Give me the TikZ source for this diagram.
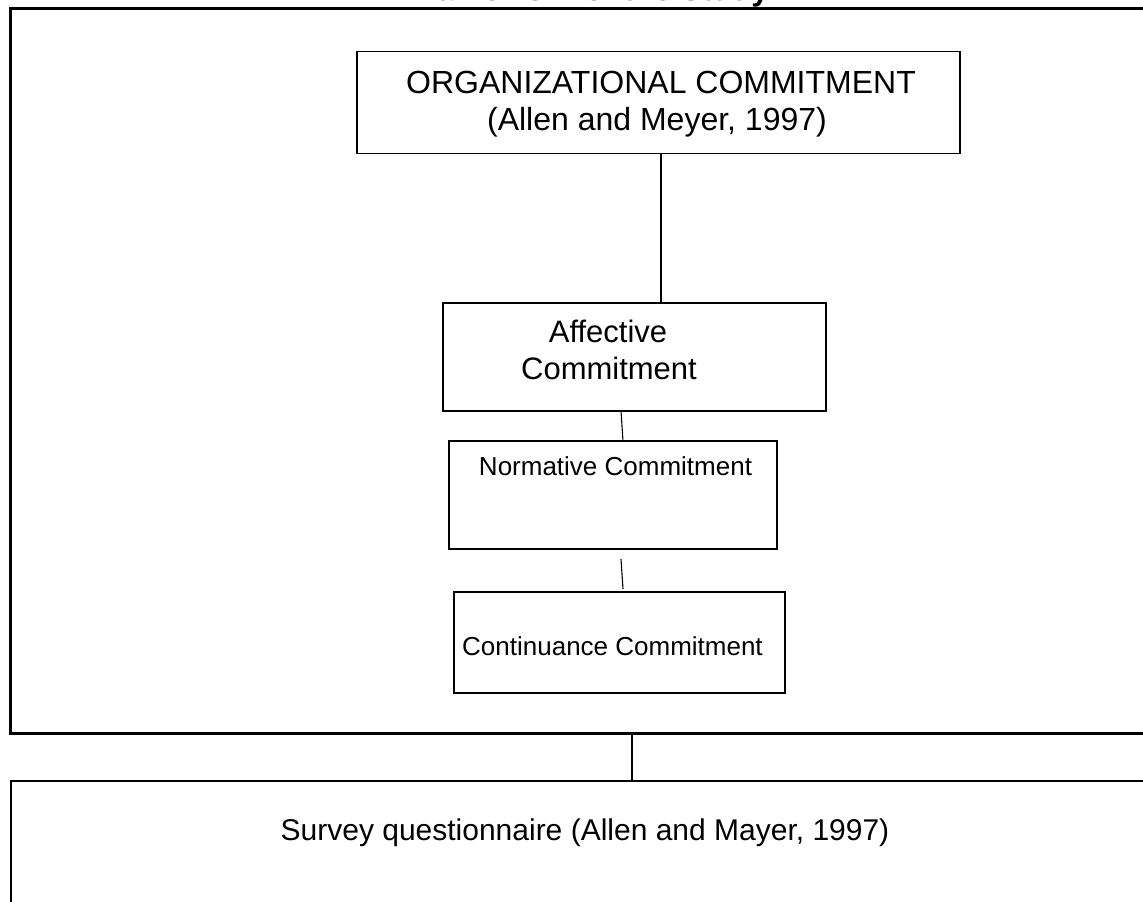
\documentclass[tikz,border=0pt]{standalone}
\usepackage{fontspec}
\setmainfont{Liberation Sans}
\usetikzlibrary{calc}
\begin{document}
\begin{tikzpicture}[x=1pt,y=-1pt,
  innerbox/.style={draw=black, line width=1.3pt, rectangle, inner sep=0pt, outer sep=0pt},
  heavybox/.style={draw=black, line width=3pt, rectangle, inner sep=0pt, outer sep=0pt},
  txt/.style={inner sep=0pt, anchor=base, text=black},
  link/.style={draw=black, line width=1.4pt},
  thinlink/.style={draw=black, line width=1.1pt}]
\useasboundingbox (0,0) rectangle (1143,902);

% heading, mostly above the page edge
\node[txt, font=\fontsize{32}{38}\selectfont\bfseries] (heading) at (587,1) {Framework of the Study};

% surrounding frame and the survey panel below it
\node[heavybox, minimum width=1155, minimum height=725] (frame) at (587.5,370.5) {};
\node[heavybox, line width=2.4pt, minimum width=1154, minimum height=149] (survey) at (588,855.5) {};
\node[txt, font=\fontsize{30}{36}\selectfont] (surveytext) at (585,840) {Survey questionnaire (Allen and Mayer, 1997)};

% concept boxes
\node[innerbox, minimum width=603, minimum height=102] (org) at (658.5,102.5) {};
\node[txt, font=\fontsize{32}{37}\selectfont] (orgA) at (661,93) {ORGANIZATIONAL COMMITMENT};
\node[txt, font=\fontsize{32}{37}\selectfont] (orgB) at (657,130) {(Allen and Meyer, 1997)};

\node[innerbox, minimum width=383, minimum height=108] (aff) at (634.5,357) {};
\node[txt, font=\fontsize{31}{37}\selectfont] (affA) at (608,342) {Affective};
\node[txt, font=\fontsize{31}{37}\selectfont] (affB) at (609,379) {Commitment};

\node[innerbox, minimum width=328, minimum height=108] (norm) at (613,495) {};
\node[txt, font=\fontsize{26}{31}\selectfont] (normtext) at (615.5,475) {Normative Commitment};

\node[innerbox, minimum width=331, minimum height=101] (cont) at (619.5,642.5) {};
\node[txt, font=\fontsize{26}{31}\selectfont] (conttext) at (612.5,655) {Continuance Commitment};

% connectors
\coordinate (orgx) at (661,0);
\coordinate (framex) at (632,0);
\draw[link] (org.south -| orgx) -- (aff.north -| orgx);
\draw[thinlink] ($(aff.south)+(-13.5,0)$) -- ($(norm.north)+(10,0)$);
\draw[thinlink] ($(norm.south)+(8,10)$) -- ($(cont.north)+(3.5,-3)$);
\draw[link] (frame.south -| framex) -- (survey.north -| framex);
\end{tikzpicture}
\end{document}
